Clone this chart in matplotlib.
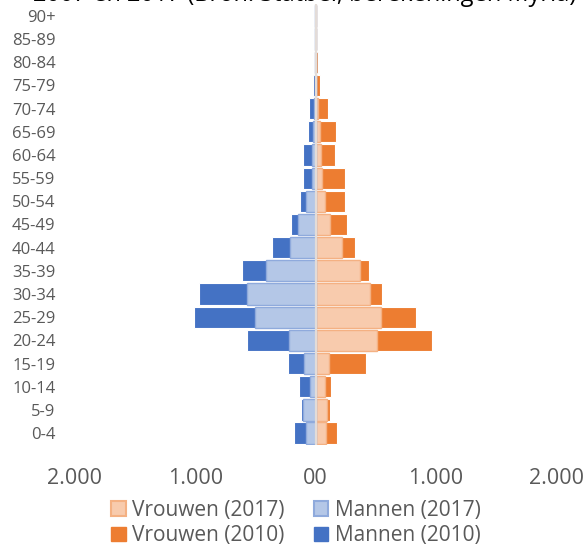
import matplotlib
matplotlib.use("Agg")
import matplotlib.pyplot as plt
from matplotlib.patches import Patch
import numpy as np

categories = ["0-4", "5-9", "10-14", "15-19", "20-24", "25-29", "30-34", "35-39",
              "40-44", "45-49", "50-54", "55-59", "60-64", "65-69", "70-74",
              "75-79", "80-84", "85-89", "90+"]
mannen_2010 = [180, 117, 139, 225, 569, 1008, 972, 611, 362, 206, 131, 104, 108, 61, 58, 24, 4, 2, 1]
vrouwen_2010 = [181, 120, 125, 422, 972, 833, 556, 442, 331, 258, 247, 245, 161, 167, 107, 40, 21, 3, 1]
mannen_2017 = [83, 100, 44, 97, 217, 503, 569, 411, 208, 146, 83, 31, 29, 23, 14, 6, 3, 2, 2]
vrouwen_2017 = [89, 95, 75, 111, 511, 548, 456, 372, 218, 118, 82, 57, 47, 37, 17, 8, 5, 3, 2]
xticks = [-2000, -1000, 0, 1000, 2000]
xticklabels = ["2.000", "1.000", "00", "1.000", "2.000"]
title = "2007 en 2017 (Bron: Statbel, berekeningen Myria)"

plt.rcParams['font.family'] = ['Open Sans', 'DejaVu Sans']

fig = plt.figure(figsize=(5.84, 5.48), dpi=100)
ax = fig.add_axes([75/584, 1 - 444.6/548, (556 - 75)/584, (444.6 - 4.4)/548])

y = np.arange(len(categories))
h = 0.92
c_v10, c_m10 = "#ED7D31", "#4472C4"
c_v17, c_m17 = "#F8CBAD", "#B4C7E7"
e_v17, e_m17 = "#F4B183", "#8FAADC"

ax.barh(y, vrouwen_2010, height=h, color=c_v10, edgecolor="white", linewidth=0.8, zorder=2)
ax.barh(y, [-v for v in mannen_2010], height=h, color=c_m10, edgecolor="white", linewidth=0.8, zorder=2)
ax.barh(y, vrouwen_2017, height=h, color=c_v17, edgecolor=e_v17, linewidth=1.0, zorder=3)
ax.barh(y, [-v for v in mannen_2017], height=h, color=c_m17, edgecolor=e_m17, linewidth=1.0, zorder=3)
ax.axvline(0, color="#E3DCD8", lw=1.6, zorder=4)

ax.set_xlim(-2000, 2000)
ax.set_ylim(-0.5, len(categories) - 0.5)
ax.set_yticks(y)
ax.set_yticklabels(categories, fontsize=12, color="#595959")
ax.set_xticks(xticks)
ax.set_xticklabels(xticklabels, fontsize=15.5, color="#595959")
ax.tick_params(axis="both", length=0)
ax.tick_params(axis="y", pad=14)
ax.tick_params(axis="x", pad=17)
for s in ax.spines.values():
    s.set_visible(False)

fig.text(33/584, 1 - 1.0/548, title, fontsize=17, color="black", ha="left", va="baseline")

handles = [
    Patch(facecolor=c_v17, edgecolor=e_v17, linewidth=1.5, label="Vrouwen (2017)"),
    Patch(facecolor=c_v10, edgecolor=c_v10, label="Vrouwen (2010)"),
    Patch(facecolor=c_m17, edgecolor=e_m17, linewidth=1.5, label="Mannen (2017)"),
    Patch(facecolor=c_m10, edgecolor=c_m10, label="Mannen (2010)"),
]
leg = fig.legend(handles=handles, loc="center", bbox_to_anchor=(296/584, 1 - 523/548),
                 ncol=2, frameon=False, fontsize=15, handlelength=0.7, handleheight=0.7,
                 handletextpad=0.3, columnspacing=1.4, labelspacing=0.22,
                 labelcolor="#595959")

fig.savefig("out.png", dpi=100)
